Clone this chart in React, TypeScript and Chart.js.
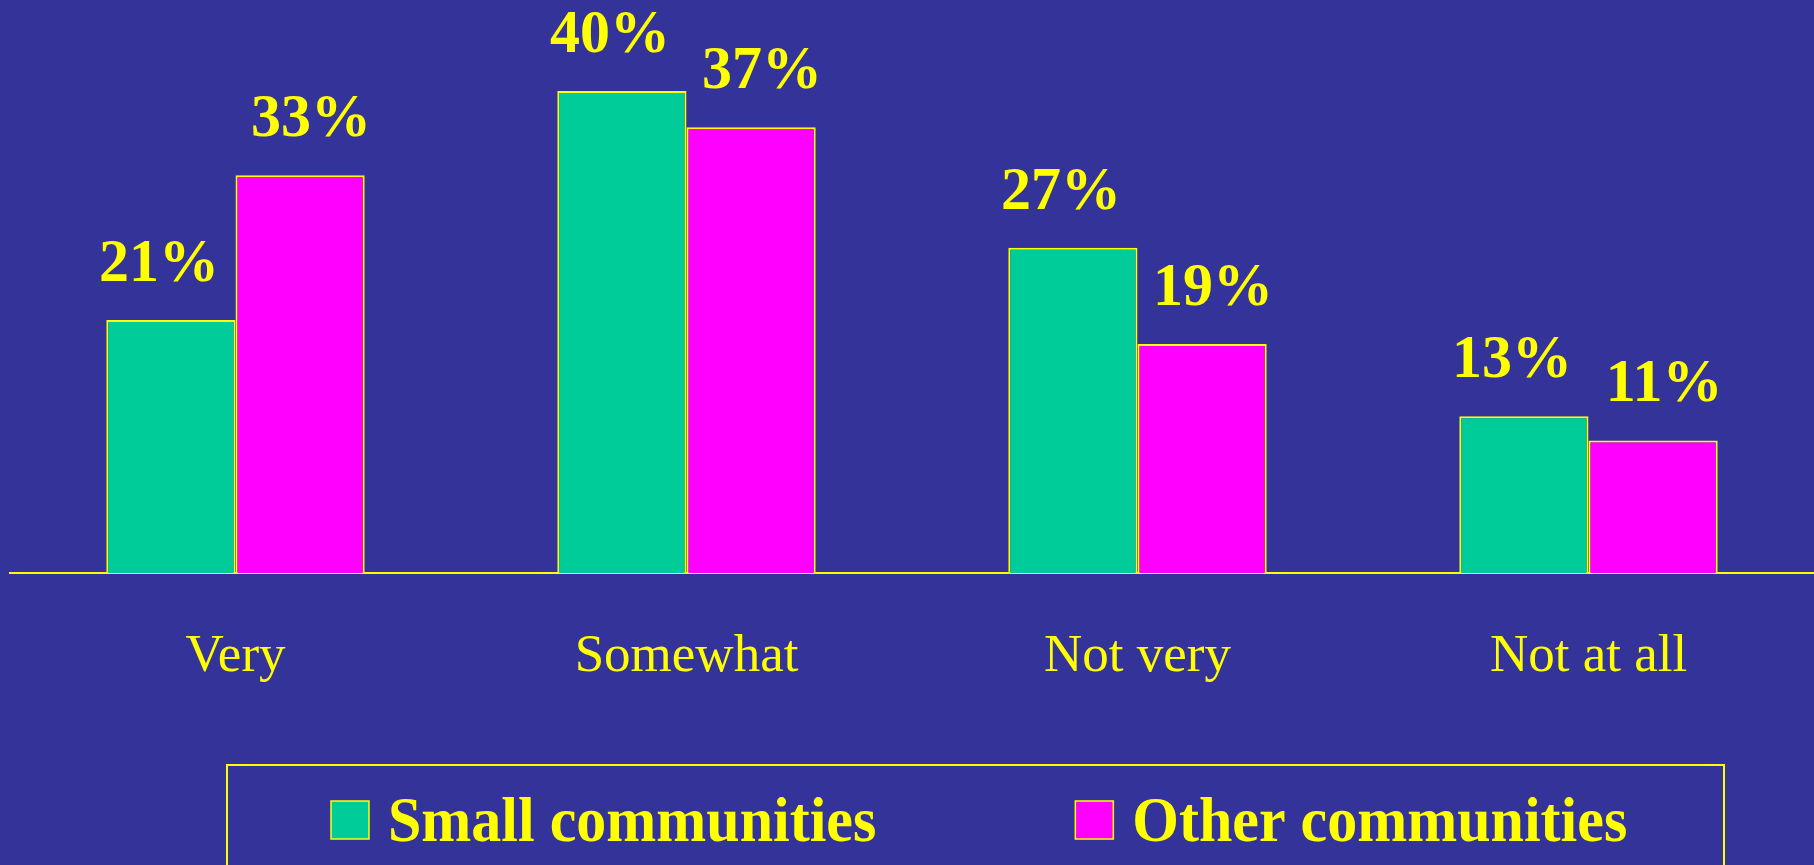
import { useEffect, useRef } from 'react'
import Chart from 'chart.js/auto'

const categories = ['Very', 'Somewhat', 'Not very', 'Not at all']
const smallCommunities = [21, 40, 27, 13]
const otherCommunities = [33, 37, 19, 11]
const seriesNames = ['Small communities', 'Other communities']

const BG = '#333399'
const YELLOW = '#ffff00'
const GREEN = '#00cc99'
const MAGENTA = '#ff00ff'
const SERIF = '"Liberation Serif", "Times New Roman", serif'

// labels in the original sit a little outwards from the bar centres
const labelShift = [-12, 11]

const valueLabels = {
  id: 'valueLabels',
  afterDatasetsDraw(chart: any) {
    const { ctx } = chart
    chart.data.datasets.forEach((ds: any, i: number) => {
      const meta = chart.getDatasetMeta(i)
      meta.data.forEach((bar: any, j: number) => {
        const { x, y } = bar.getProps(['x', 'y'], true)
        ctx.save()
        ctx.translate(x + labelShift[i], y - 39)
        ctx.scale(1, 1.03)
        ctx.font = `bold 60px ${SERIF}`
        ctx.fillStyle = YELLOW
        ctx.textAlign = 'center'
        ctx.textBaseline = 'alphabetic'
        ctx.fillText(`${ds.data[j]}%`, 0, 0)
        ctx.restore()
      })
    })
  },
}

const boxedLegend = {
  id: 'boxedLegend',
  afterDraw(chart: any) {
    const { ctx } = chart
    ctx.save()
    ctx.strokeStyle = YELLOW
    ctx.lineWidth = 2
    ctx.strokeRect(227, 765, 1497, 200)

    ctx.font = `bold 60px ${SERIF}`
    ctx.textBaseline = 'alphabetic'
    ctx.textAlign = 'left'
    let x = 331
    chart.data.datasets.forEach((ds: any) => {
      ctx.fillStyle = ds.backgroundColor
      ctx.fillRect(x, 801, 38, 38)
      ctx.lineWidth = 1.5
      ctx.strokeStyle = YELLOW
      ctx.strokeRect(x, 801, 38, 38)
      ctx.fillStyle = YELLOW
      const tx = x + 57
      ctx.save()
      ctx.translate(tx, 841)
      ctx.scale(1, 1.04)
      ctx.fillText(ds.label, 0, 0)
      ctx.restore()
      x = tx + ctx.measureText(ds.label).width + 199
    })
    ctx.restore()
  },
}

export default function App() {
  const chartRef = useRef<HTMLCanvasElement>(null)
  const chartInstanceRef = useRef<Chart | null>(null)

  useEffect(() => {
    document.body.style.margin = '0'
    document.body.style.background = BG
    if (!chartRef.current) return
    if (chartInstanceRef.current) chartInstanceRef.current.destroy()
    const ctx = chartRef.current.getContext('2d')
    if (!ctx) return

    chartInstanceRef.current = new Chart(ctx, {
      type: 'bar',
      data: {
        labels: categories,
        datasets: [
          {
            label: seriesNames[0],
            data: smallCommunities,
            backgroundColor: GREEN,
            borderColor: YELLOW,
            borderWidth: 2,
          },
          {
            label: seriesNames[1],
            data: otherCommunities,
            backgroundColor: MAGENTA,
            borderColor: YELLOW,
            borderWidth: 2,
          },
        ],
      },
      plugins: [valueLabels, boxedLegend],
      options: {
        responsive: false,
        animation: false,
        layout: { padding: { top: 0, left: 10, right: 0, bottom: 0 } },
        datasets: {
          bar: { categoryPercentage: 0.573, barPercentage: 1 },
        },
        plugins: {
          legend: { display: false },
          tooltip: { enabled: false },
        },
        scales: {
          x: {
            grid: { display: false, drawTicks: false },
            border: { display: true, color: YELLOW, width: 2 },
            ticks: {
              color: YELLOW,
              padding: 52,
              font: { family: SERIF, size: 53 },
            },
            afterFit: (scale: any) => {
              scale.height = 292
            },
          },
          y: {
            display: false,
            min: 0,
            max: 47.55,
          },
        },
      },
    })

    return () => {
      if (chartInstanceRef.current) {
        chartInstanceRef.current.destroy()
        chartInstanceRef.current = null
      }
    }
  }, [])

  return (
    <div style={{ width: 1814, height: 865, background: BG, overflow: 'hidden' }}>
      <canvas ref={chartRef} width={1814} height={865}></canvas>
    </div>
  )
}
